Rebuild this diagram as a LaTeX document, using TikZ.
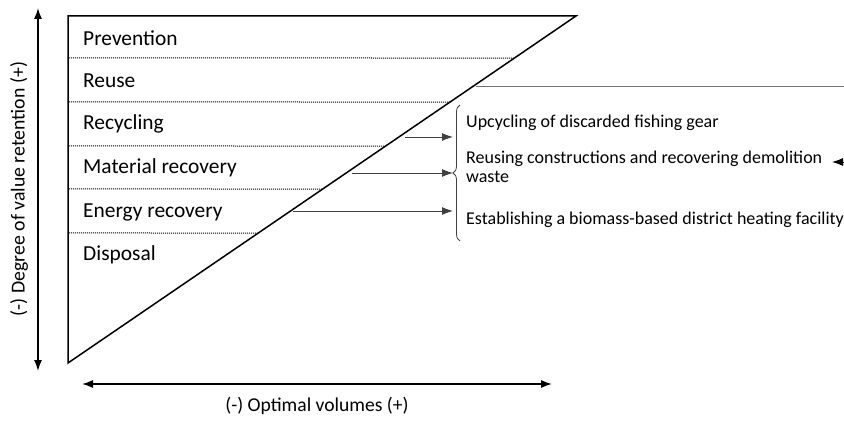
\documentclass[tikz,border=0pt]{standalone}
\usepackage{fontspec}
\setmainfont{Carlito}
\usetikzlibrary{arrows.meta,decorations.pathreplacing,calc}
\begin{document}
\begin{tikzpicture}[x=1pt,y=-1pt,
  lvl/.style={anchor=west,inner sep=0pt,font=\fontsize{21.4}{23}\selectfont},
  ex/.style={anchor=west,inner sep=0pt,font=\fontsize{18}{20}\selectfont},
  axlbl/.style={inner sep=0pt,font=\fontsize{19.6}{21}\selectfont},
  sep/.style={line width=1pt,dash pattern=on 1pt off 1pt},
  axis/.style={line width=1.3pt,{Latex[length=11pt,width=8pt]}-{Latex[length=11pt,width=8pt]}},
  link/.style={line width=0.9pt,draw=black!75,-{Latex[length=11pt,width=8pt]}}]
\useasboundingbox (0,0) rectangle (844,422);
% triangle
\coordinate (TL) at (68,16);
\coordinate (TR) at (576,16);
\coordinate (BL) at (68,363);
% separators
\foreach \y in {58,102,146,189,233}{
  \draw[sep] (69,\y) -- ($(BL)!{(363-\y)/347}!(TR)$);
}
\draw[line width=1.5pt,line join=miter] (TL) -- (TR) -- (BL) -- cycle;
% levels
\node[lvl] (prev) at (83,38) {Prevention};
\node[lvl] (reuse) at (83,81) {Reuse};
\node[lvl] (recyc) at (83,124) {Recycling};
\node[lvl] (matrec) at (83,168) {Material recovery};
\node[lvl] (enrec) at (83,212) {Energy recovery};
\node[lvl] (disp) at (83,255) {Disposal};
% brace
\draw[line width=0.8pt,draw=black!75,decorate,decoration={brace,amplitude=7pt,mirror,raise=0pt}] (460,105) -- (460,241);
\coordinate (bt) at (453,173);
% examples
\node[ex] (ex1) at (466,123) {Upcycling of discarded fishing gear};
\node[ex,align=left,anchor=north west] (ex2) at (466,151) {Reusing constructions and recovering demolition\\[-1pt]waste};
\node[ex] (ex3) at (466,220) {Establishing a biomass-based district heating facility};
% arrows into brace
\coordinate (s1) at (405,137);
\coordinate (e1) at (453,137);
\coordinate (s2) at (352,173);
\coordinate (s3) at (293,211);
\coordinate (e3) at (453,211);
\draw[link] (s1) -- (e1);
\draw[link] (s2) -- (bt);
\draw[link] (s3) -- (e3);
% reuse line to the right
\coordinate (r0) at (476,86);
\coordinate (r1) at (844,86);
\coordinate (r2) at (844,162);
\coordinate (r3) at (832,162);
\draw[line width=0.9pt,draw=black!55] (r0) -- (r1) -- (r2);
\draw[line width=0.9pt,-{Latex[length=11pt,width=8pt]}] (r2) -- (r3);
% axes
\coordinate (vt) at (38,8);
\coordinate (vb) at (38,371);
\draw[axis] (vb) -- (vt);
\node[axlbl,rotate=90,font=\fontsize{19.8}{21}\selectfont] (vlbl) at (19,189) {(-) Degree of value retention (+)};
\coordinate (hl) at (82,384);
\coordinate (hr) at (552,384);
\draw[axis] (hl) -- (hr);
\node[axlbl] (hlbl) at (317,406) {(-) Optimal volumes (+)};
\end{tikzpicture}
\end{document}
